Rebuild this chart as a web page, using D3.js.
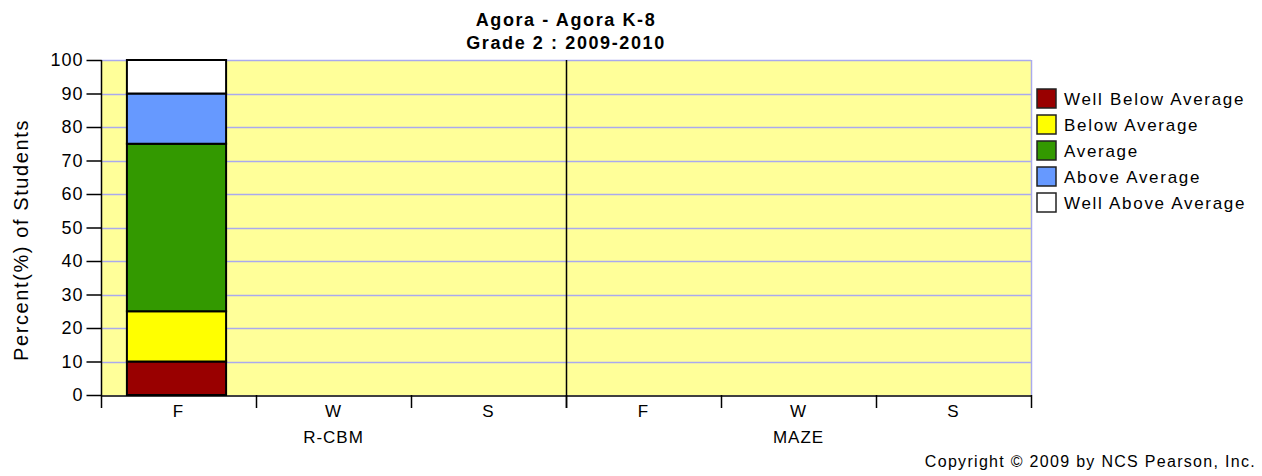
<!DOCTYPE html>
<html>
<head>
<meta charset="utf-8">
<script src="https://cdn.jsdelivr.net/npm/d3@7"></script>
<style>
body{margin:0;background:#fff;font-family:"Liberation Sans",Arial,sans-serif}
</style>
</head>
<body>
<div id="chart"></div>
<script>
var titleLines = ["Agora - Agora K-8", "Grade 2 : 2009-2010"]
var groups = ["R-CBM", "MAZE"]
var periods = ["F", "W", "S"]
var levels = ["Well Below Average", "Below Average", "Average", "Above Average", "Well Above Average"]
var levelColors = ["#990000", "#ffff00", "#339900", "#6699ff", "#ffffff"]
// percent of students per level, one row per group/period (empty = no data)
var barValues = [
    {group: "R-CBM", period: "F", values: [10, 15, 50, 15, 10]}
]
var yTicks = [0, 10, 20, 30, 40, 50, 60, 70, 80, 90, 100]

var width = 1262, height = 476
var margin = {left: 101, right: 1031, top: 60, bottom: 395}

var svg = d3.select("#chart").append("svg").attr("width", width).attr("height", height)

var cats = []
groups.forEach(function(g){ periods.forEach(function(p){ cats.push(g + "|" + p) }) })

var x = d3.scaleBand().domain(cats).range([margin.left, margin.right]).paddingInner(0).paddingOuter(0)
var y = d3.scaleLinear().domain([0, 100]).range([margin.bottom, margin.top])

// plot background
svg.append("rect")
    .attr("x", margin.left).attr("y", margin.top)
    .attr("width", margin.right - margin.left).attr("height", margin.bottom - margin.top)
    .attr("fill", "#ffff99")

// gridlines
svg.selectAll(".grid").data(yTicks.filter(function(d){ return d > 0 }))
    .enter().append("line")
    .attr("x1", margin.left).attr("x2", margin.right)
    .attr("y1", function(d){ return Math.round(y(d)) + 0.5 })
    .attr("y2", function(d){ return Math.round(y(d)) + 0.5 })
    .attr("stroke", "#aaaaee").attr("stroke-width", 1.5)

// right border
svg.append("line")
    .attr("x1", margin.right + 0.5).attr("x2", margin.right + 0.5)
    .attr("y1", margin.top).attr("y2", margin.bottom)
    .attr("stroke", "#aaaaee").attr("stroke-width", 1.5)

// bars
var barW = x.bandwidth() * 0.64
barValues.forEach(function(b){
    var x0 = x(b.group + "|" + b.period) + (x.bandwidth() - barW) / 2 - 2
    var cum = 0
    b.values.forEach(function(v, i){
        svg.append("rect")
            .attr("x", x0).attr("width", barW)
            .attr("y", y(cum + v)).attr("height", y(cum) - y(cum + v))
            .attr("fill", levelColors[i])
            .attr("stroke", "#000").attr("stroke-width", 2)
        cum += v
    })
})

// group divider
var groupW = x.bandwidth() * periods.length
for (var gi = 1; gi < groups.length; gi++) {
    var gx = Math.round(margin.left + groupW * gi) + 0.5
    svg.append("line").attr("x1", gx).attr("x2", gx)
        .attr("y1", margin.top).attr("y2", margin.bottom + 13)
        .attr("stroke", "#000").attr("stroke-width", 1.5)
}

// y axis
var yAxis = d3.axisLeft(y).tickValues(yTicks).tickSize(15).tickPadding(3)
var ya = svg.append("g").attr("transform", "translate(" + (margin.left + 0.5) + ",0)").call(yAxis)
ya.select(".domain").attr("stroke", "#000").attr("stroke-width", 1.5).attr("d", "M0," + margin.top + "V" + margin.bottom)
ya.selectAll(".tick line").attr("stroke", "#000").attr("stroke-width", 1.5)
ya.selectAll(".tick text").attr("font-size", 18).attr("fill", "#000").attr("letter-spacing", 1)
    .attr("font-family", "Liberation Sans, Arial, sans-serif")

// x axis
var xAxis = d3.axisBottom(x).tickFormat(function(d){ return d.split("|")[1] }).tickSize(0).tickPadding(9)
var xa = svg.append("g").attr("transform", "translate(0," + (margin.bottom + 0.5) + ")").call(xAxis)
xa.select(".domain").attr("stroke", "#000").attr("stroke-width", 1.5)
xa.selectAll(".tick text").attr("font-size", 17).attr("fill", "#000").attr("letter-spacing", 1)
    .attr("font-family", "Liberation Sans, Arial, sans-serif")
// category boundary ticks
var bounds = cats.map(function(c){ return x(c) }).concat([margin.right])
svg.selectAll(".btick").data(bounds).enter().append("line")
    .attr("x1", function(d){ return Math.round(d) + 0.5 }).attr("x2", function(d){ return Math.round(d) + 0.5 })
    .attr("y1", margin.bottom).attr("y2", margin.bottom + 13)
    .attr("stroke", "#000").attr("stroke-width", 1.5)

// group labels
groups.forEach(function(g, i){
    svg.append("text")
        .attr("x", margin.left + groupW * (i + 0.5)).attr("y", 443)
        .attr("text-anchor", "middle").attr("font-size", 17).attr("letter-spacing", 1).text(g)
})

// title
titleLines.forEach(function(t, i){
    svg.append("text").attr("x", 566).attr("y", 26 + i * 23)
        .attr("text-anchor", "middle").attr("font-size", 18).attr("font-weight", "bold")
        .attr("letter-spacing", 1.6).text(t)
})

// y label
svg.append("text")
    .attr("transform", "translate(28,240) rotate(-90)")
    .attr("text-anchor", "middle").attr("font-size", 20).attr("letter-spacing", 1.6)
    .text("Percent(%) of Students")

// legend
var leg = svg.append("g").attr("transform", "translate(1037,89)")
levels.forEach(function(l, i){
    leg.append("rect").attr("x", 0).attr("y", i * 26).attr("width", 19).attr("height", 19)
        .attr("fill", levelColors[i]).attr("stroke", "#222").attr("stroke-width", 1.5)
    leg.append("text").attr("x", 27).attr("y", i * 26 + 16)
        .attr("font-size", 17).attr("letter-spacing", 1.7).text(l)
})

// copyright
svg.append("text").attr("x", 1256).attr("y", 467).attr("text-anchor", "end")
    .attr("font-size", 16).attr("letter-spacing", 1.3).text("Copyright \u00a9 2009 by NCS Pearson, Inc.")
</script>
</body>
</html>
